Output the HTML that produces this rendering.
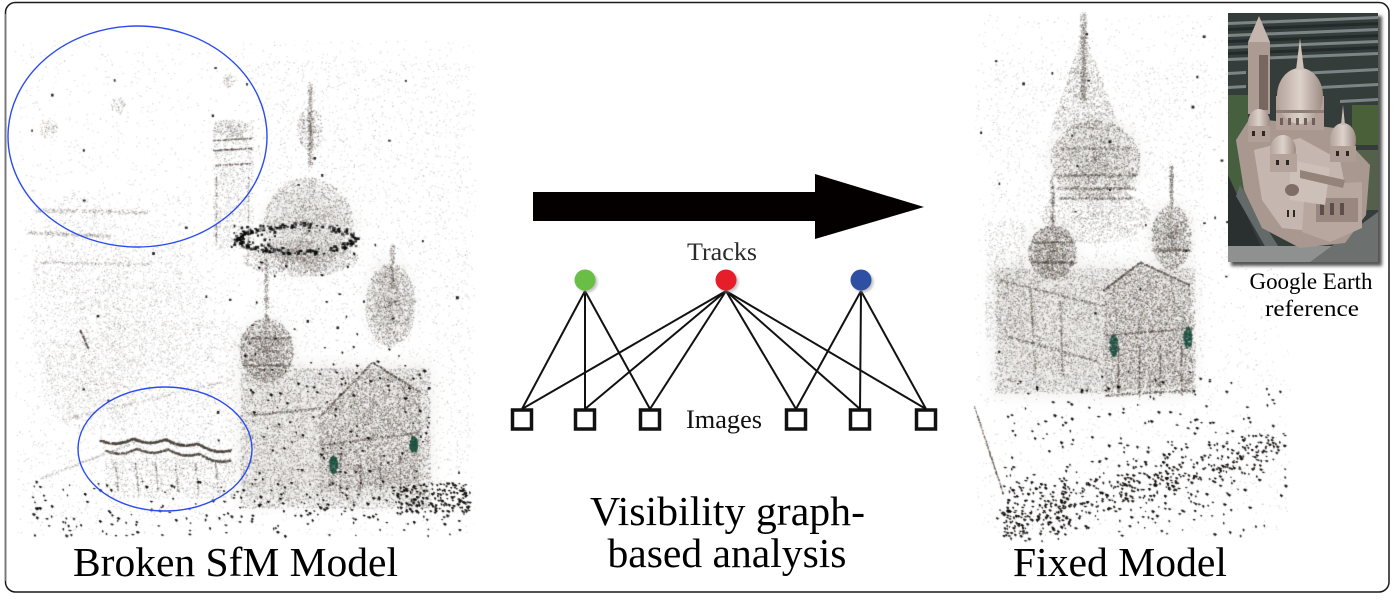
<!DOCTYPE html>
<html><head><meta charset="utf-8">
<style>
html,body{margin:0;padding:0;background:#fff;}
#wrap{position:relative;width:1400px;height:600px;overflow:hidden;background:#fff;}
#cv,#fg,#bg,#tx{position:absolute;left:0;top:0;}
#tx text{font-family:"Liberation Serif","DejaVu Serif","Noto Serif CJK SC",serif;}
</style></head>
<body>
<div id="wrap">
<svg id="bg" width="1400" height="600" viewBox="0 0 1400 600">
  <defs>
    <filter id="bl" x="-50%" y="-50%" width="200%" height="200%"><feGaussianBlur stdDeviation="8"/></filter>
  </defs>
  <g filter="url(#bl)" opacity="0.45">
    <ellipse cx="308" cy="228" rx="45" ry="45" fill="#e6e3e0"/>
    <ellipse cx="266" cy="350" rx="26" ry="30" fill="#dcd8d4"/>
    <ellipse cx="390" cy="300" rx="22" ry="40" fill="#e0ddda"/>
    <rect x="240" y="365" width="190" height="140" fill="#dedad6"/>
    <ellipse cx="1095" cy="160" rx="45" ry="42" fill="#e2deda"/>
    <ellipse cx="1052" cy="250" rx="24" ry="26" fill="#dcd8d4"/>
    <ellipse cx="1171" cy="235" rx="20" ry="32" fill="#dedad6"/>
    <rect x="995" y="265" width="198" height="130" fill="#dcd8d4"/>
  </g>
</svg>
<canvas id="cv" width="1400" height="600"></canvas>
<svg id="fg" width="1400" height="600" viewBox="0 0 1400 600">
  <defs>
    <filter id="sh" x="-50%" y="-50%" width="200%" height="200%"><feGaussianBlur stdDeviation="1.2"/></filter>
    <filter id="sh2" x="-10%" y="-10%" width="130%" height="130%"><feGaussianBlur stdDeviation="1.5"/></filter>
    <clipPath id="ins"><rect x="1228" y="13" width="150" height="249"/></clipPath>
    <linearGradient id="dm" x1="0" y1="0" x2="1" y2="0">
      <stop offset="0" stop-color="#b3a39b"/><stop offset="0.5" stop-color="#ddd2cb"/><stop offset="1" stop-color="#9c8b83"/>
    </linearGradient>
  </defs>

  <rect x="5.5" y="2.5" width="1383.5" height="589.5" rx="10" ry="10" fill="none" stroke="#1a1a1a" stroke-width="1.5"/>
  <line x1="5.5" y1="14" x2="5.5" y2="581" stroke="#777" stroke-width="1.6"/>

  <ellipse cx="137.5" cy="136.5" rx="129.5" ry="110.5" fill="none" stroke="#2a4bf0" stroke-width="1.4"/>
  <ellipse cx="165" cy="449" rx="87" ry="62" fill="none" stroke="#2a4bf0" stroke-width="1.4"/>

  <polygon points="533,192 815,192 815,174 924,207 815,239 815,221 533,221" fill="#050000"/>

  <g stroke="#111" stroke-width="2" fill="none">
    <line x1="585" y1="291" x2="522" y2="409"/>
    <line x1="585" y1="291" x2="585" y2="409"/>
    <line x1="585" y1="291" x2="650" y2="409"/>
    <line x1="726" y1="291" x2="522" y2="409"/>
    <line x1="726" y1="291" x2="585" y2="409"/>
    <line x1="726" y1="291" x2="650" y2="409"/>
    <line x1="726" y1="291" x2="796" y2="409"/>
    <line x1="726" y1="291" x2="860" y2="409"/>
    <line x1="726" y1="291" x2="926" y2="409"/>
    <line x1="861" y1="291" x2="796" y2="409"/>
    <line x1="861" y1="291" x2="860" y2="409"/>
    <line x1="861" y1="291" x2="926" y2="409"/>
  </g>
  <circle cx="587" cy="282" r="10.5" fill="#999" filter="url(#sh)" opacity="0.6"/>
  <circle cx="728" cy="282" r="10.5" fill="#999" filter="url(#sh)" opacity="0.6"/>
  <circle cx="863" cy="282" r="10.5" fill="#999" filter="url(#sh)" opacity="0.6"/>
  <circle cx="585" cy="280" r="10.5" fill="#69be45"/>
  <circle cx="726" cy="280" r="10.5" fill="#e61e2a"/>
  <circle cx="861" cy="280" r="10.5" fill="#2f4fa3"/>
  <g fill="#fff" stroke="#111" stroke-width="3.5">
    <rect x="512.5" y="410" width="19" height="19"/>
    <rect x="575.5" y="410" width="19" height="19"/>
    <rect x="640.5" y="410" width="19" height="19"/>
    <rect x="786.5" y="410" width="19" height="19"/>
    <rect x="850.5" y="410" width="19" height="19"/>
    <rect x="916.5" y="410" width="19" height="19"/>
  </g>

  <!-- Google Earth inset -->
  <rect x="1231" y="16" width="151" height="250" fill="#555" filter="url(#sh2)"/>
  <g clip-path="url(#ins)">
    <rect x="1228" y="13" width="150" height="249" fill="#353d3b"/>
    <g fill="#9aa3a6" opacity="0.7">
      <polygon points="1228,22 1378,16 1378,19 1228,25"/>
      <polygon points="1228,34 1378,28 1378,31 1228,37"/>
      <polygon points="1228,46 1378,40 1378,43 1228,49"/>
      <polygon points="1228,58 1378,52 1378,55 1228,61"/>
      <polygon points="1300,72 1378,68 1378,71 1300,75"/>
      <polygon points="1320,86 1378,83 1378,86 1320,89"/>
      <polygon points="1340,100 1378,98 1378,101 1340,103"/>
      <polygon points="1228,72 1246,71 1246,74 1228,75"/>
      <polygon points="1228,86 1246,85 1246,88 1228,89"/>
    </g>
    <g fill="#1f2625" opacity="0.8">
      <polygon points="1228,28 1378,22 1378,25 1228,31"/>
      <polygon points="1228,40 1378,34 1378,37 1228,43"/>
      <polygon points="1228,52 1378,46 1378,49 1228,55"/>
    </g>
    <rect x="1228" y="95" width="20" height="100" fill="#46603f"/>
    <rect x="1352" y="105" width="26" height="40" fill="#4a6039"/>
    <rect x="1350" y="150" width="28" height="60" fill="#55604c"/>
    <polygon points="1228,175 1268,262 1228,262" fill="#2a2f2f"/>
    <polygon points="1240,185 1288,262 1274,262 1236,196" fill="#646969"/>
    <rect x="1228" y="246" width="150" height="16" fill="#8e918f"/>
    <polygon points="1310,262 1378,212 1378,262" fill="#6c706f"/>
    <!-- building -->
    <polygon points="1236,140 1250,118 1335,128 1370,165 1366,215 1345,243 1300,248 1262,228 1244,190" fill="#a99890"/>
    <polygon points="1254,150 1300,138 1340,160 1348,200 1320,232 1282,228 1262,200" fill="#c5b7af"/>
    <polygon points="1305,185 1362,182 1362,228 1330,242 1302,232" fill="#b7a79f"/>
    <rect x="1316" y="198" width="42" height="24" fill="#9a877f"/>
    <rect x="1320" y="203" width="4" height="12" fill="#5a4f4a"/>
    <rect x="1330" y="203" width="4" height="12" fill="#5a4f4a"/>
    <rect x="1340" y="203" width="4" height="12" fill="#5a4f4a"/>
    <polygon points="1290,160 1330,168 1325,205 1290,200" fill="#cdc0b9"/>
    <polygon points="1300,170 1345,180 1343,188 1300,178" fill="#948379"/>
    <rect x="1248" y="42" width="22" height="72" fill="#ab9b92"/>
    <rect x="1259" y="55" width="9" height="55" fill="#776760"/>
    <polygon points="1248,42 1259,16 1270,42" fill="#c4b6ae"/>
    <rect x="1276" y="96" width="48" height="34" fill="#b3a199"/>
    <ellipse cx="1300" cy="96" rx="23" ry="28" fill="url(#dm)"/>
    <polygon points="1296,70 1300,38 1304,70" fill="#cfc2bb"/>
    <rect x="1276" y="110" width="48" height="3" fill="#8f7e76"/>
    <g fill="#6e615b"><rect x="1280" y="118" width="3" height="7"/><rect x="1288" y="118" width="3" height="7"/><rect x="1296" y="118" width="3" height="7"/><rect x="1304" y="118" width="3" height="7"/><rect x="1312" y="118" width="3" height="7"/></g>
    <ellipse cx="1259" cy="122" rx="11" ry="13" fill="url(#dm)"/>
    <rect x="1248" y="126" width="22" height="16" fill="#b0a098"/>
    <ellipse cx="1343" cy="140" rx="13" ry="17" fill="url(#dm)"/>
    <polygon points="1341,125 1343,105 1345,125" fill="#c9bbb3"/>
    <rect x="1330" y="146" width="26" height="16" fill="#ad9d95"/>
    <ellipse cx="1283" cy="150" rx="13" ry="15" fill="url(#dm)"/>
    <rect x="1270" y="154" width="27" height="18" fill="#b3a39b"/>
    <g fill="#2e2724">
      <rect x="1252" y="131" width="3" height="5"/><rect x="1262" y="131" width="3" height="5"/>
      <rect x="1336" y="151" width="3" height="5"/><rect x="1346" y="151" width="3" height="5"/>
      <rect x="1276" y="160" width="3" height="5"/><rect x="1286" y="160" width="3" height="5"/>
      <rect x="1287" y="210" width="2" height="7"/><rect x="1293" y="210" width="2" height="7"/>
    </g>
    <ellipse cx="1292" cy="190" rx="7" ry="6" fill="#7e6e67"/>
  </g>
</svg>

<svg id="tx" width="1400" height="600" viewBox="0 0 1400 600">
  <g text-anchor="middle">
    <text x="722" y="260" font-size="25.5" fill="#2a2a2a" textLength="70" lengthAdjust="spacingAndGlyphs">Tracks</text>
    <text x="724" y="428" font-size="26" fill="#111" textLength="76" lengthAdjust="spacingAndGlyphs">Images</text>
    <text x="727.5" y="525" font-size="41.5" fill="#000" textLength="275" lengthAdjust="spacingAndGlyphs">Visibility graph-</text>
    <text x="727" y="567" font-size="41.5" fill="#000" textLength="239" lengthAdjust="spacingAndGlyphs">based analysis</text>
    <text x="235.5" y="576" font-size="41.5" fill="#000" textLength="325" lengthAdjust="spacingAndGlyphs">Broken SfM Model</text>
    <text x="1120" y="576" font-size="41.5" fill="#000" textLength="214" lengthAdjust="spacingAndGlyphs">Fixed Model</text>
    <text x="1311" y="289" font-size="23" fill="#000" textLength="123" lengthAdjust="spacingAndGlyphs">Google Earth</text>
    <text x="1312" y="316" font-size="23" fill="#000" textLength="94" lengthAdjust="spacingAndGlyphs">reference</text>
  </g>
</svg>
</div>
<script>
(function(){
var c=document.getElementById('cv'),X=c.getContext('2d');
var s=987654321;
function r(){s|=0;s=s+0x6D2B79F5|0;var t=Math.imul(s^s>>>15,1|s);t=t+Math.imul(t^t>>>7,61|t)^t;return((t^t>>>14)>>>0)/4294967296;}
function g(){return (r()+r()+r()-1.5)/1.5;}
function col(a){return 'rgba('+(55+r()*45|0)+','+(50+r()*38|0)+','+(45+r()*32|0)+','+(a*(0.3+0.7*r())).toFixed(3)+')';}
function pt(px,py,a,sz){X.fillStyle=col(a);X.fillRect(px,py,sz,sz);}
function rect(x0,y0,w,h,n,a,sz){for(var i=0;i<n;i++)pt(x0+r()*w,y0+r()*h,a,sz||1);}
function ell(cx,cy,rx,ry,n,a,sz){for(var i=0;i<n;i++){var an=r()*6.2832,rd=Math.pow(r(),0.6);pt(cx+Math.cos(an)*rd*rx,cy+Math.sin(an)*rd*ry,a,sz||1);}}
function ln(x1,y1,x2,y2,n,sp,a,sz){for(var i=0;i<n;i++){var t=r();pt(x1+(x2-x1)*t+g()*sp,y1+(y2-y1)*t+g()*sp,a,sz||1);}}
function inPoly(p,x,y){var ins=false;for(var i=0,j=p.length-1;i<p.length;j=i++){var xi=p[i][0],yi=p[i][1],xj=p[j][0],yj=p[j][1];if(((yi>y)!=(yj>y))&&(x<(xj-xi)*(y-yi)/(yj-yi)+xi))ins=!ins;}return ins;}
function poly(p,n,a,sz){var mnx=1e9,mny=1e9,mxx=-1e9,mxy=-1e9;p.forEach(function(q){mnx=Math.min(mnx,q[0]);mxx=Math.max(mxx,q[0]);mny=Math.min(mny,q[1]);mxy=Math.max(mxy,q[1]);});var k=0,tries=0;while(k<n&&tries<n*20){tries++;var x=mnx+r()*(mxx-mnx),y=mny+r()*(mxy-mny);if(inPoly(p,x,y)){pt(x,y,a,sz||1);k++;}}}
function cam(x,y){X.fillStyle='rgba(15,12,10,'+(0.75+0.25*r())+')';var w=1.5+r()*2.5,h=1.5+r()*2;X.beginPath();X.moveTo(x,y);X.lineTo(x+w,y+h*0.3);X.lineTo(x+w*0.4,y+h);X.closePath();X.fill();X.fillRect(x,y,w*0.6,h*0.6);}
function cams(x0,y0,w,h,n){for(var i=0;i<n;i++)cam(x0+r()*w,y0+r()*h);}
function camsLine(x1,y1,x2,y2,n,sp){for(var i=0;i<n;i++){var t=r();cam(x1+(x2-x1)*t+g()*sp*0.4,y1+(y2-y1)*t+g()*sp);}}
function blk(x0,y0,w,h,n){for(var i=0;i<n;i++){X.fillStyle='rgba(10,10,10,0.9)';X.fillRect(x0+r()*w,y0+r()*h,1.5+r()*1.5,1.5+r()*1.5);}}
function green(cx,cy,rx,ry){for(var i=0;i<200;i++){var an=r()*6.2832,rd=Math.sqrt(r());X.fillStyle='rgba(30,80,65,'+(0.4+0.5*r())+')';X.fillRect(cx+Math.cos(an)*rd*rx,cy+Math.sin(an)*rd*ry,1.5,1.5);}}

/* ---------- LEFT: Broken model ---------- */
rect(15,40,460,495,3500,0.35);
rect(30,190,200,330,1800,0.35);
ell(80,300,50,110,1500,0.4);
ln(35,210,150,212,300,4,0.45);
ln(28,232,110,236,250,3,0.45);
ln(40,262,150,264,200,3,0.4);
ell(150,300,55,70,1200,0.35);
ell(90,380,50,50,1000,0.35);
ln(80,330,88,348,100,1.5,0.85);
ell(48,128,9,11,90,0.45);ell(118,105,7,9,70,0.45);ell(228,80,6,7,60,0.45);
rect(213,120,40,130,1100,0.45);
ell(230,128,18,9,220,0.5);
ln(213,150,252,148,140,1.2,0.8);ln(213,140,252,138,110,1.2,0.7);ln(215,165,250,163,90,1.2,0.7);
ln(216,175,216,245,90,1.2,0.6);ln(248,175,248,245,90,1.2,0.6);
rect(255,60,215,440,2800,0.35);
ln(310,84,310,165,450,4,0.55);
ell(310,128,13,22,350,0.6);
ell(308,225,45,48,3000,0.55);
ell(300,258,58,18,1600,0.55);
for(var i=0;i<220;i++){var an=r()*6.2832;X.fillStyle='rgba(8,8,8,'+(0.6+0.4*r())+')';X.fillRect(296+Math.cos(an)*58+g()*6,238+Math.sin(an)*13+g()*5,1.5+r()*2.5,1.2+r()*2);}
blk(225,225,50,30,25);
ln(266,258,266,320,220,3.5,0.65);
ell(266,350,27,32,2200,0.72);
ln(242,365,292,365,160,2,0.8);ln(245,338,288,338,130,2,0.75);
ln(392,245,392,290,200,4,0.6);
ell(390,305,25,42,1900,0.62);
rect(240,368,190,140,8000,0.65);
poly([[318,418],[372,362],[420,392],[420,482],[320,492]],3200,0.78);
ln(318,418,372,362,200,1.5,0.85);ln(372,362,420,392,200,1.5,0.85);ln(320,445,420,432,200,2,0.8);
ln(250,415,320,408,180,2,0.8);
for(var k=0;k<4;k++){ln(340+k*20,455,340+k*20,492,70,1.5,0.8);}
rect(110,320,140,150,1700,0.4);
ln(60,420,230,380,200,3,0.45);
ln(40,478,140,440,180,2,0.4);
for(var i=0;i<1100;i++){var t=r();var xx=100+130*t;var yy=440+10*t+4*Math.abs(Math.sin(t*Math.PI*4))-6*Math.sin(t*Math.PI);pt(xx+g()*1.6,yy+g()*1.6,0.85,1.3);}
for(var i=0;i<800;i++){var t=r();var xx=105+125*t;var yy=450+10*t+4*Math.abs(Math.sin(t*Math.PI*4))-6*Math.sin(t*Math.PI);pt(xx+g()*1.6,yy+g()*1.6,0.75,1.2);}
rect(105,458,130,40,1000,0.45);
for(var k=0;k<6;k++){ln(115+k*20,462,118+k*20,492,45,1.5,0.7);}
cams(30,480,440,55,200);
cams(395,482,75,30,160);
cams(245,360,185,145,110);
cams(240,230,160,130,30);
blk(30,60,440,470,40);
green(333,464,4,9);green(413,444,4,8);

/* ---------- RIGHT: Fixed model ---------- */
rect(975,15,315,520,2500,0.35);
rect(990,60,215,330,2500,0.35);
ln(1083,13,1083,100,650,5,0.55);
poly([[1083,30],[1050,130],[1120,130]],1500,0.5);
ell(1095,160,45,40,3000,0.62);
ln(1055,175,1137,175,220,2.5,0.8);ln(1057,188,1135,188,220,2.5,0.8);ln(1060,198,1132,198,180,2.5,0.75);
ln(1060,148,1130,148,150,2.5,0.65);
ell(1095,215,55,28,1500,0.45);
ln(1052,176,1052,225,220,3.5,0.65);
ell(1052,252,24,27,1900,0.72);
ln(1030,262,1076,262,170,2,0.85);ln(1032,242,1074,242,130,2,0.75);
ln(1171,165,1171,205,200,3.5,0.65);
ell(1171,237,20,32,1600,0.68);
ln(1152,250,1190,250,130,2,0.75);
rect(995,268,200,125,8500,0.62);
poly([[1103,290],[1140,262],[1190,285],[1193,383],[1105,392]],3200,0.78);
ln(1103,290,1140,262,200,1.5,0.85);ln(1140,262,1190,285,200,1.5,0.85);
ln(1105,335,1192,328,200,2,0.85);
for(var k=0;k<4;k++){ln(1118+k*21,345,1118+k*21,396,100,1.5,0.85);}
ln(1105,395,1192,390,200,2,0.85);
rect(985,220,40,120,900,0.4);
ln(1000,280,1100,305,220,2,0.7);
ln(1030,290,1035,370,150,2,0.7);ln(1060,298,1062,375,150,2,0.7);
ln(1005,335,1100,362,200,2,0.7);
green(1113,345,4,11);green(1187,337,4,11);
cams(1000,370,285,165,230);
camsLine(1000,525,1282,440,380,35);
cams(1000,480,70,55,120);
cams(1120,440,120,80,80);
ln(974,406,1003,494,220,1,0.9);
blk(980,20,300,380,30);
})();
</script>
</body></html>
